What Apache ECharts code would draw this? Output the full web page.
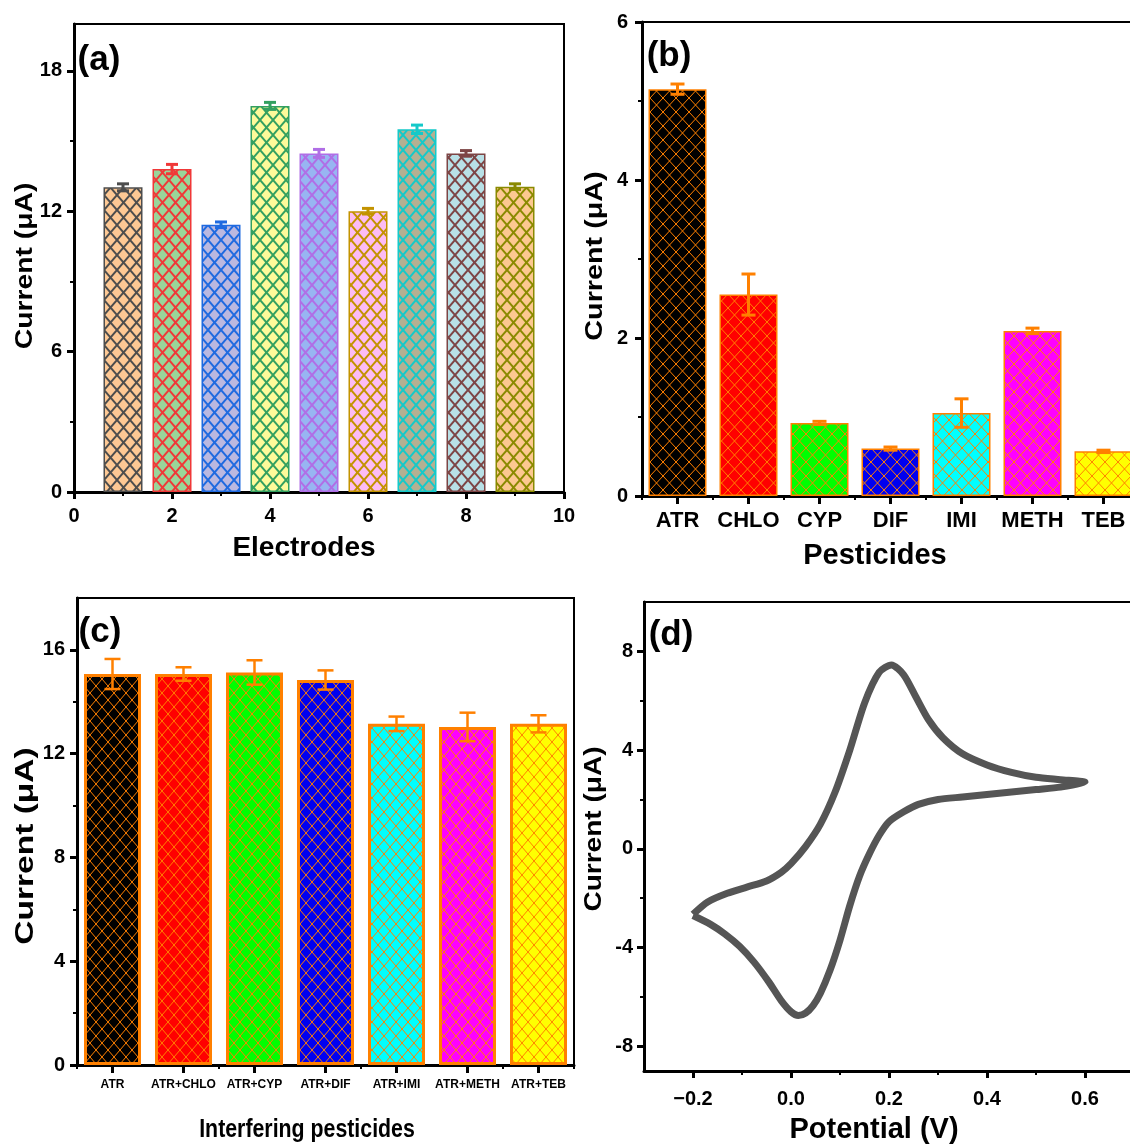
<!DOCTYPE html>
<html>
<head>
<meta charset="utf-8">
<script src="https://cdn.jsdelivr.net/npm/echarts@6/dist/echarts.min.js"></script>
<style>
html, body { margin: 0; padding: 0; background: #fff; overflow: hidden; }
#main { width: 1160px; height: 1147px; }
</style>
</head>
<body>
<div id="main"></div>
<script>
// ---- (a) 电极重现性 ----
var electrodeX = [1, 2, 3, 4, 5, 6, 7, 8, 9];
var electrodeCurrent = [13.02, 13.8, 11.42, 16.5, 14.47, 12.0, 15.5, 14.47, 13.05];
var electrodeErr = [0.15, 0.2, 0.12, 0.15, 0.17, 0.12, 0.18, 0.12, 0.12];
var electrodeFill = ['#fdc894', '#99d69a', '#bbb8e0', '#fdfa9a', '#98b5f2', '#fcbcf4', '#b4b092', '#b8e0e6', '#fcc890'];
var electrodeLine = ['#4d4d4d', '#f03838', '#1f6ae0', '#33a060', '#b06ee6', '#c39300', '#15c9c9', '#7d4545', '#8a8a00'];
var electrodeXTicks = [0, 2, 4, 6, 8, 10];
var electrodeXMinor = [1, 3, 5, 7, 9];
var electrodeYTicks = [0, 6, 12, 18];
var electrodeYMinor = [3, 9, 15];

// ---- (b) 选择性 ----
var pesticides = ['ATR', 'CHLO', 'CYP', 'DIF', 'IMI', 'METH', 'TEB'];
var pesticideCurrent = [5.15, 2.55, 0.925, 0.6, 1.05, 2.09, 0.565];
var pesticideErr = [0.065, 0.26, 0.02, 0.02, 0.18, 0.035, 0.015];
var pesticideYTicks = [0, 2, 4, 6];
var pesticideYMinor = [1, 3, 5];

// ---- (c) 干扰实验 ----
var mixtures = ['ATR', 'ATR+CHLO', 'ATR+CYP', 'ATR+DIF', 'ATR+IMI', 'ATR+METH', 'ATR+TEB'];
var mixtureCurrent = [15.07, 15.07, 15.13, 14.84, 13.15, 13.03, 13.15];
var mixtureErr = [0.58, 0.26, 0.47, 0.37, 0.28, 0.55, 0.33];
var mixtureYTicks = [0, 4, 8, 12, 16];
var mixtureYMinor = [2, 6, 10, 14];

// (b)(c) 共用颜色
var pestFill = ['#000000', '#ff0000', '#00ff00', '#0000f0', '#00ffff', '#ff00ff', '#ffff00'];
var orange = '#ff8000';

// ---- (d) 循环伏安曲线 ----
var cvPotential = [-0.2, -0.17, -0.13, -0.09, -0.05, -0.02, 0.0, 0.03, 0.06, 0.09, 0.12, 0.15, 0.18, 0.205, 0.23, 0.255, 0.28, 0.31, 0.35, 0.4, 0.45, 0.5, 0.55, 0.6,
    0.55, 0.5, 0.45, 0.4, 0.35, 0.3, 0.26, 0.23, 0.2, 0.18, 0.16, 0.14, 0.12, 0.1, 0.08, 0.06, 0.045, 0.03, 0.015, 0.0, -0.02, -0.045, -0.075, -0.105, -0.135, -0.165, -0.2];
var cvCurrent = [-2.65, -2.15, -1.8, -1.55, -1.3, -0.95, -0.6, 0.1, 1.0, 2.3, 4.0, 5.9, 7.15, 7.45, 7.05, 6.15, 5.25, 4.5, 3.85, 3.4, 3.1, 2.9, 2.8, 2.7,
    2.5, 2.4, 2.3, 2.2, 2.1, 2.0, 1.8, 1.5, 1.1, 0.55, -0.2, -1.1, -2.3, -3.7, -4.9, -5.85, -6.35, -6.65, -6.75, -6.6, -6.15, -5.4, -4.6, -3.95, -3.45, -3.05, -2.7];
var cvXTicks = [-0.2, 0, 0.2, 0.4, 0.6];
var cvXMinor = [-0.1, 0.1, 0.3, 0.5];
var cvYTicks = [-8, -4, 0, 4, 8];
var cvYMinor = [-6, -2, 2, 6];

var FONT = "'Liberation Sans', Arial, sans-serif";

// 网格填充图案
function hatch(fill, line, w, h, lw) {
    var c = document.createElement('canvas');
    c.width = w;
    c.height = h;
    var ctx = c.getContext('2d');
    ctx.fillStyle = fill;
    ctx.fillRect(0, 0, w, h);
    ctx.strokeStyle = line;
    ctx.lineWidth = lw;
    ctx.beginPath();
    for (var k = -1; k <= 1; k++) {
        ctx.moveTo(k * w, 0);
        ctx.lineTo(k * w + w, h);
        ctx.moveTo(k * w + w, 0);
        ctx.lineTo(k * w, h);
    }
    ctx.stroke();
    return { image: c, repeat: 'repeat' };
}

// 误差棒
function errorBars(capW, colors, lw) {
    return function (params, api) {
        var x = api.value(0);
        var lo = api.coord([x, api.value(1)]);
        var hi = api.coord([x, api.value(2)]);
        var st = { stroke: colors[params.dataIndex % colors.length], lineWidth: lw };
        return {
            type: 'group',
            children: [
                { type: 'line', shape: { x1: hi[0], y1: hi[1], x2: lo[0], y2: lo[1] }, style: st },
                { type: 'line', shape: { x1: hi[0] - capW / 2, y1: hi[1], x2: hi[0] + capW / 2, y2: hi[1] }, style: st },
                { type: 'line', shape: { x1: lo[0] - capW / 2, y1: lo[1], x2: lo[0] + capW / 2, y2: lo[1] }, style: st }
            ]
        };
    };
}

function errData(xs, vals, errs) {
    return vals.map(function (v, i) { return [xs[i], v - errs[i], v + errs[i]]; });
}

// 数值轴（主刻度）
function valueAxis(grid, pos, min, max, ticks, opt) {
    opt = opt || {};
    return {
        type: 'value', gridIndex: grid, position: pos, min: min, max: max,
        splitLine: { show: false },
        axisLine: { show: true, onZero: false, lineStyle: { color: '#000', width: 3 } },
        axisTick: { show: true, customValues: ticks, length: 7, lineStyle: { color: '#000', width: 3 } },
        axisLabel: {
            customValues: ticks, color: '#000', fontFamily: FONT, fontWeight: 'bold',
            fontSize: opt.size || 20, margin: opt.margin || 12, formatter: opt.fmt
        }
    };
}

// 数值轴（次刻度，仅刻度线）
function minorAxis(grid, pos, min, max, ticks) {
    return {
        type: 'value', gridIndex: grid, position: pos, min: min, max: max,
        splitLine: { show: false },
        axisLine: { show: false, onZero: false },
        axisTick: { show: true, customValues: ticks, length: 4, lineStyle: { color: '#000', width: 2 } },
        axisLabel: { show: false }
    };
}

function categoryAxis(grid, cats, size, margin) {
    return {
        type: 'category', gridIndex: grid, position: 'bottom', data: cats,
        axisLine: { show: true, lineStyle: { color: '#000', width: 3 } },
        axisTick: { show: true, alignWithLabel: true, length: 8, lineStyle: { color: '#000', width: 3 } },
        axisLabel: { color: '#000', fontFamily: FONT, fontWeight: 'bold', fontSize: size, margin: margin, interval: 0 }
    };
}

function categoryMinor(grid, cats) {
    return {
        type: 'category', gridIndex: grid, position: 'bottom', data: cats,
        axisLine: { show: false },
        axisTick: { show: true, length: 4, lineStyle: { color: '#000', width: 2 } },
        axisLabel: { show: false }
    };
}

function text(str, x, y, size, rot, sx) {
    return {
        type: 'text', x: x, y: y, rotation: rot || 0, scaleX: sx || 1, z: 100,
        style: {
            text: str, font: 'bold ' + size + 'px ' + FONT, fill: '#000',
            align: 'center', verticalAlign: 'middle', textAlign: 'center', textVerticalAlign: 'middle'
        }
    };
}

var cvFmt = function (v) { return (v < 0 ? '\u2212' : '') + Math.abs(v).toFixed(1); };

var myChart = echarts.init(document.getElementById('main'));

var gridStyle = { show: true, borderColor: '#000', borderWidth: 2, backgroundColor: 'transparent' };

var option = {
    animation: false,
    backgroundColor: '#fff',
    grid: [
        Object.assign({ left: 74, top: 24, width: 490, height: 468 }, gridStyle),
        Object.assign({ left: 642, top: 22, width: 497, height: 474 }, gridStyle),
        Object.assign({ left: 77, top: 598, width: 497, height: 467 }, gridStyle),
        Object.assign({ left: 644, top: 602, width: 490, height: 469 }, gridStyle)
    ],
    xAxis: [
        valueAxis(0, 'bottom', 0, 10, electrodeXTicks, { margin: 14 }),
        minorAxis(0, 'bottom', 0, 10, electrodeXMinor),
        categoryAxis(1, pesticides, 22, 14),
        categoryMinor(1, pesticides),
        categoryAxis(2, mixtures, 12, 14),
        categoryMinor(2, mixtures),
        valueAxis(3, 'bottom', -0.3, 0.7, cvXTicks, { margin: 18, fmt: cvFmt }),
        minorAxis(3, 'bottom', -0.3, 0.7, cvXMinor)
    ],
    yAxis: [
        valueAxis(0, 'left', 0, 20, electrodeYTicks, { margin: 12 }),
        minorAxis(0, 'left', 0, 20, electrodeYMinor),
        valueAxis(1, 'left', 0, 6, pesticideYTicks, { margin: 14 }),
        minorAxis(1, 'left', 0, 6, pesticideYMinor),
        valueAxis(2, 'left', 0, 18, mixtureYTicks, { margin: 12 }),
        minorAxis(2, 'left', 0, 18, mixtureYMinor),
        valueAxis(3, 'left', -9, 10, cvYTicks, { margin: 11 }),
        minorAxis(3, 'left', -9, 10, cvYMinor)
    ],
    series: [
        {
            type: 'bar', xAxisIndex: 0, yAxisIndex: 0, barWidth: 39,
            data: electrodeX.map(function (x, i) {
                return {
                    value: [x, electrodeCurrent[i]],
                    itemStyle: { color: hatch(electrodeFill[i], electrodeLine[i], 13, 15, 2), borderColor: electrodeLine[i], borderWidth: 1.5 }
                };
            })
        },
        {
            type: 'custom', xAxisIndex: 0, yAxisIndex: 0, z: 5,
            renderItem: errorBars(12, electrodeLine, 3),
            encode: { x: 0, y: [1, 2] },
            data: errData(electrodeX, electrodeCurrent, electrodeErr)
        },
        {
            type: 'bar', xAxisIndex: 2, yAxisIndex: 2, barWidth: 58,
            data: pesticideCurrent.map(function (v, i) {
                return {
                    value: v,
                    itemStyle: { color: hatch(pestFill[i], orange, 13, 14, 1), borderColor: orange, borderWidth: 1.5 }
                };
            })
        },
        {
            type: 'custom', xAxisIndex: 2, yAxisIndex: 2, z: 5,
            renderItem: errorBars(14, [orange], 3),
            encode: { x: 0, y: [1, 2] },
            data: errData(pesticides.map(function (c, i) { return i; }), pesticideCurrent, pesticideErr)
        },
        {
            type: 'bar', xAxisIndex: 4, yAxisIndex: 4, barWidth: 57,
            data: mixtureCurrent.map(function (v, i) {
                return {
                    value: v,
                    itemStyle: { color: hatch(pestFill[i], orange, 12, 14, 1), borderColor: orange, borderWidth: 3 }
                };
            })
        },
        {
            type: 'custom', xAxisIndex: 4, yAxisIndex: 4, z: 5,
            renderItem: errorBars(16, [orange], 2.5),
            encode: { x: 0, y: [1, 2] },
            data: errData(mixtures.map(function (c, i) { return i; }), mixtureCurrent, mixtureErr)
        },
        {
            type: 'line', xAxisIndex: 6, yAxisIndex: 6,
            showSymbol: false, smooth: 0.25,
            lineStyle: { color: '#555555', width: 7 },
            data: cvPotential.map(function (v, i) { return [v, cvCurrent[i]]; })
        }
    ],
    graphic: [
        text('(a)', 99, 60, 35),
        text('(b)', 669, 56, 35),
        text('(c)', 100, 632, 35),
        text('(d)', 671, 635, 35),
        text('Current (\u03bcA)', 26, 266, 23, Math.PI / 2, 1.23),
        text('Current (\u03bcA)', 596, 256, 23, Math.PI / 2, 1.25),
        text('Current (\u03bcA)', 26, 846, 25, Math.PI / 2, 1.34),
        text('Current (\u03bcA)', 595, 829, 23, Math.PI / 2, 1.22),
        text('Electrodes', 304, 548, 28),
        text('Pesticides', 875, 556, 29),
        text('Interfering pesticides', 307, 1130, 26, 0, 0.82),
        text('Potential (V)', 874, 1130, 29)
    ]
};

myChart.setOption(option);
</script>
</body>
</html>
